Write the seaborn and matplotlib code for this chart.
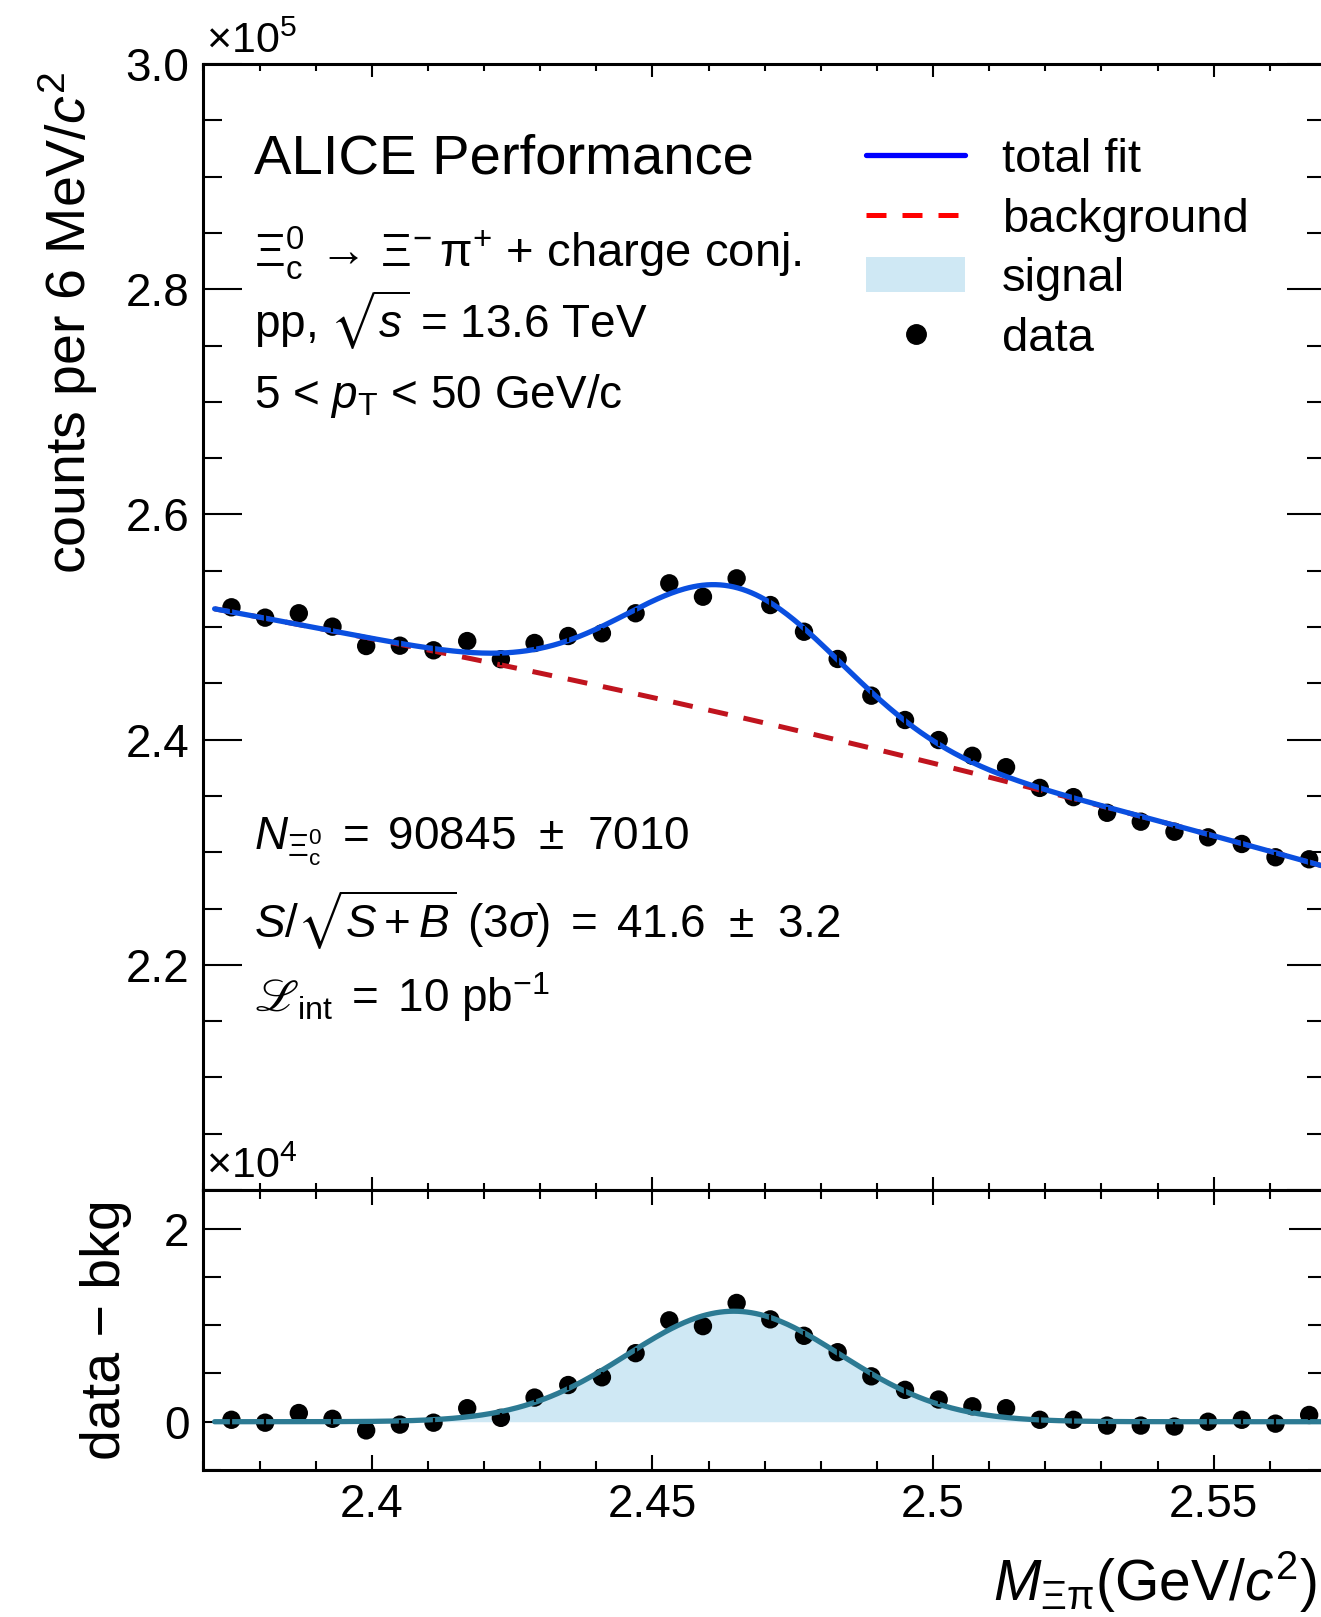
import numpy as np
import pandas as pd
import matplotlib
matplotlib.use("Agg")
import matplotlib.pyplot as plt
from matplotlib.ticker import MultipleLocator, FuncFormatter
from matplotlib.lines import Line2D
from matplotlib.patches import Patch
import seaborn as sns

# ---------------------------------------------------------------- data
# bin centres of the Xi-pi invariant mass (GeV/c^2), 6 MeV bins
mass = [2.375, 2.381, 2.387, 2.393, 2.399, 2.405, 2.411, 2.417, 2.423, 2.429,
        2.435, 2.441, 2.447, 2.453, 2.459, 2.465, 2.471, 2.477, 2.483, 2.489,
        2.495, 2.501, 2.507, 2.513, 2.519, 2.525, 2.531, 2.537, 2.543, 2.549,
        2.555, 2.561, 2.567]

# candidate counts per bin
counts = [251750, 250830, 251220, 250030, 248310, 248340, 247930, 248750,
          247140, 248580, 249200, 249440, 251220, 253880, 252690, 254320,
          251950, 249580, 247160, 243900, 241740, 239960, 238560, 237550,
          235710, 234890, 233500, 232710, 231820, 231320, 230730, 229550,
          229370]

# counts after background subtraction
residual = [200, -100, 900, 300, -900, -300, -100, 1400, 400, 2500, 3800,
            4600, 7100, 10500, 9900, 12300, 10600, 8900, 7200, 4700, 3300,
            2300, 1600, 1400, 200, 200, -400, -400, -500, 0, 200, -200, 700]

# fit results: Gaussian signal + 2nd-order polynomial background
fit_range = (2.372, 2.570)
bin_width = 0.006
n_signal, n_signal_err = 90845, 7010
signif, signif_err = 41.6, 3.2
sig_mean, sig_sigma = 2.4645, 0.0190
bkg_x0 = 2.47
bkg_p0, bkg_p1, bkg_p2 = 241480.0, -115500.0, -123400.0

# ---------------------------------------------------------------- model
def background(x):
    d = x - bkg_x0
    return bkg_p0 + bkg_p1 * d + bkg_p2 * d ** 2

def signal(x):
    amp = n_signal * bin_width / (np.sqrt(2 * np.pi) * sig_sigma)
    return amp * np.exp(-0.5 * ((x - sig_mean) / sig_sigma) ** 2)

xs = np.linspace(fit_range[0], fit_range[1], 500)
curves = pd.DataFrame({"x": xs,
                       "bkg": background(xs) / 1e5,
                       "total": (background(xs) + signal(xs)) / 1e5,
                       "sig": signal(xs) / 1e4})

pts = pd.DataFrame({"x": mass,
                    "y": np.array(counts) / 1e5,
                    "yerr": np.sqrt(counts) / 1e5,
                    "r": np.array(residual) / 1e4,
                    "rerr": np.sqrt(counts) / 1e4})

# ---------------------------------------------------------------- style
sns.set_theme(style="ticks")
plt.rcParams.update({
    "font.family": ["Liberation Sans", "DejaVu Sans"],
    "mathtext.fontset": "custom",
    "mathtext.rm": "Liberation Sans",
    "mathtext.it": "Liberation Sans:italic",
    "mathtext.bf": "Liberation Sans:bold",
    "mathtext.sf": "Liberation Sans",
    "mathtext.fallback": "stixsans",
    "axes.linewidth": 2.2,
    "axes.edgecolor": "black",
    "text.color": "black",
    "xtick.color": "black",
    "ytick.color": "black",
})

W, H = 1321, 1617
fig = plt.figure(figsize=(W / 100, H / 100), dpi=100)

def fx(x):
    return x / W

def fy(y):
    return 1 - y / H

left, right = fx(203.4), fx(1326)
ax = fig.add_axes([left, fy(1190), right - left, fy(64) - fy(1190)])
axr = fig.add_axes([left, fy(1470), right - left, fy(1190) - fy(1470)],
                   sharex=ax)

BLUE = "#0a4fe0"
RED = "#c0141e"
TEAL = "#2c7a93"
FILL = "#cfe8f4"
MARKER_S = 175

# ---------------------------------------------------------------- top panel
sns.lineplot(data=curves, x="x", y="bkg", ax=ax, color=RED, lw=3.6,
             zorder=3).lines[-1].set_dashes((4.0, 3.2))
sns.lineplot(data=curves, x="x", y="total", ax=ax, color=BLUE, lw=3.8,
             zorder=4)
sns.scatterplot(data=pts, x="x", y="y", ax=ax, color="black", s=MARKER_S,
                edgecolor="none", zorder=2)
ax.errorbar(pts["x"], pts["y"], yerr=pts["yerr"], fmt="none",
            ecolor="black", elinewidth=1.6, capsize=0, zorder=5)

ax.set_xlim(2.37, 2.57)
ax.set_ylim(2.0, 3.0)
ax.yaxis.set_major_locator(MultipleLocator(0.2))
ax.yaxis.set_minor_locator(MultipleLocator(0.05))
ax.xaxis.set_major_locator(MultipleLocator(0.05))
ax.xaxis.set_minor_locator(MultipleLocator(0.01))
ax.yaxis.set_major_formatter(
    FuncFormatter(lambda v, p: "" if v < 2.1 else f"{v:.1f}"))
ax.tick_params(axis="y", which="major", direction="in", length=28, width=1.5,
               labelsize=33, pad=10, left=True, right=True)
ax.tick_params(axis="y", which="minor", direction="in", length=14, width=1.5,
               left=True, right=True)
ax.tick_params(axis="x", which="major", direction="in", length=9.5, width=1.5,
               top=True, bottom=True, labelbottom=False)
ax.tick_params(axis="x", which="minor", direction="in", length=5, width=1.5,
               top=True, bottom=True)
ax.set_xlabel("")
ax.set_ylabel("")

# ---------------------------------------------------------------- bottom panel
axr.fill_between(curves["x"], 0, curves["sig"], color=FILL, lw=0, zorder=1)
sns.lineplot(data=curves, x="x", y="sig", ax=axr, color=TEAL, lw=3.8,
             zorder=4)
sns.scatterplot(data=pts, x="x", y="r", ax=axr, color="black", s=MARKER_S,
                edgecolor="none", zorder=2)
axr.errorbar(pts["x"], pts["r"], yerr=pts["rerr"], fmt="none",
             ecolor="black", elinewidth=1.6, capsize=0, zorder=5)

axr.set_ylim(-0.5, 2.4)
axr.yaxis.set_major_locator(MultipleLocator(2))
axr.yaxis.set_minor_locator(MultipleLocator(0.5))
axr.yaxis.set_major_formatter(FuncFormatter(lambda v, p: f"{v:.0f}"))
axr.xaxis.set_major_formatter(FuncFormatter(lambda v, p: f"{v:g}"))
axr.tick_params(axis="y", which="major", direction="in", length=27, width=1.5,
                labelsize=33, pad=10, left=True, right=True)
axr.tick_params(axis="y", which="minor", direction="in", length=13, width=1.5,
                left=True, right=True)
axr.tick_params(axis="x", which="major", direction="in", length=10.5,
                width=1.5, labelsize=33, pad=9, top=True, bottom=True)
axr.tick_params(axis="x", which="minor", direction="in", length=6.5,
                width=1.5, top=True, bottom=True)
axr.set_xlabel("")
axr.set_ylabel("")

# ---------------------------------------------------------------- axis titles
fig.text(fx(68), fy(72), r"counts per 6 MeV/$c^{2}$", rotation=90,
         ha="center", va="top", fontsize=40)
fig.text(fx(106), fy(1330), "data − bkg", rotation=90, ha="center",
         va="center", fontsize=40)
fig.text(fx(1316), fy(1601), r"$M_{\mathrm{Ξπ}}$(GeV/$c^{2}$)", ha="right",
         va="baseline", fontsize=41)
fig.text(fx(206), fy(53), r"×10$^{5}$", ha="left", va="baseline", fontsize=31)
fig.text(fx(206), fy(1178), r"×10$^{4}$", ha="left", va="baseline",
         fontsize=31)

# ---------------------------------------------------------------- annotations
gap = r" $\,$"
pm_gap = r" $\;$"
tx = fx(253.7)
fig.text(tx, fy(174), "ALICE Performance", fontsize=40.5, va="baseline")
fig.text(tx, fy(267),
         r"$\mathrm{Ξ}_{\mathrm{c}}^{0}\,\rightarrow\,\mathrm{Ξ}^{-}\,\mathrm{π}^{+}$ + charge conj.",
         fontsize=34, va="baseline")
fig.text(tx, fy(338), r"pp, $\sqrt{s}$ = 13.6 TeV", fontsize=33,
         va="baseline")
fig.text(tx, fy(408), r"5 < $p_{\mathrm{T}}$ < 50 GeV/c", fontsize=33,
         va="baseline")
fig.text(tx, fy(850),
         r"$N_{\mathrm{Ξ}_{\mathrm{c}}^{0}}$" + gap + "=" + gap
         + f"{n_signal}" + pm_gap + "±" + pm_gap + f"{n_signal_err}",
         fontsize=33, va="baseline")
fig.text(tx, fy(938),
         r"$S/\sqrt{S+B}$ (3$\sigma$)" + gap + "=" + gap
         + f"{signif}" + pm_gap + "±" + pm_gap + f"{signif_err}",
         fontsize=33, va="baseline")
fig.text(tx, fy(1012),
         r"$\mathscr{L}_{\mathrm{int}}$" + gap + "=" + gap + r"10 pb$^{-1}$",
         fontsize=33, va="baseline")

# ---------------------------------------------------------------- legend
handles = [
    Line2D([], [], color="#0000ff", lw=3.8),
    Line2D([], [], color="#ff0000", lw=3.6, dashes=(4.0, 3.2)),
    Patch(facecolor=FILL, edgecolor="none"),
    Line2D([], [], color="black", marker="o", ls="none", markersize=14),
]
labels = ["total fit", "background", "signal", "data"]
ax.legend(handles, labels, loc="upper left",
          bbox_to_anchor=(fx(866), fy(138)), bbox_transform=fig.transFigure,
          frameon=False, fontsize=34, handlelength=2.1, handleheight=0.77,
          handletextpad=0.78, labelspacing=0.33, borderpad=0,
          borderaxespad=0)

fig.savefig("out.png", dpi=100)
